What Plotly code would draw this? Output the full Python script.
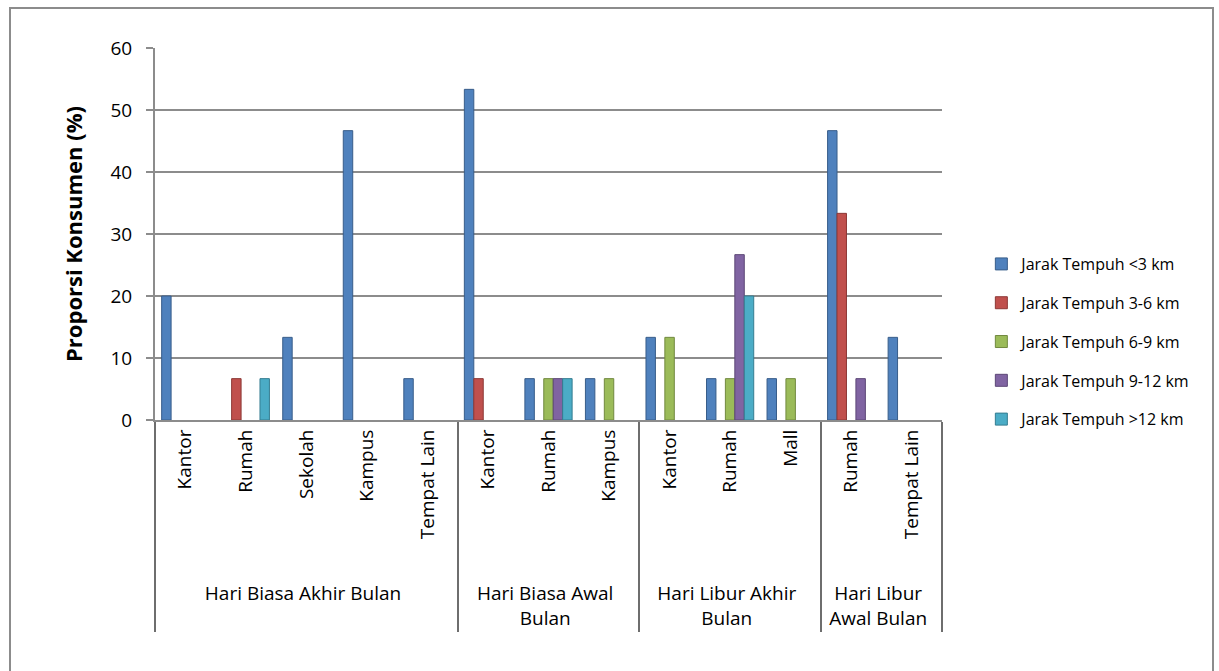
import plotly.graph_objects as go

groups = (["<br>Hari Biasa Akhir Bulan"] * 5
          + ["<br>Hari Biasa Awal<br>Bulan"] * 3
          + ["<br>Hari Libur Akhir<br>Bulan"] * 3
          + ["<br>Hari Libur<br>Awal Bulan"] * 2)
places = ["Kantor", "Rumah", "Sekolah", "Kampus", "Tempat Lain",
          "Kantor", "Rumah", "Kampus",
          "Kantor", "Rumah", "Mall",
          "Rumah", "Tempat Lain"]

series_names = ["Jarak Tempuh <3 km", "Jarak Tempuh 3-6 km", "Jarak Tempuh 6-9 km",
                "Jarak Tempuh 9-12 km", "Jarak Tempuh >12 km"]
jarak_lt3 = [20, None, 13.33, 46.67, 6.67, 53.33, 6.67, 6.67, 13.33, 6.67, 6.67, 46.67, 13.33]
jarak_3_6 = [None, 6.67, None, None, None, 6.67, None, None, None, None, None, 33.33, None]
jarak_6_9 = [None, None, None, None, None, None, 6.67, 6.67, 13.33, 6.67, 6.67, None, None]
jarak_9_12 = [None, None, None, None, None, None, 6.67, None, None, 26.67, None, 6.67, None]
jarak_gt12 = [None, 6.67, None, None, None, None, 6.67, None, None, 20, None, None, None]

colors = ["#4F81BD", "#C0504D", "#9BBB59", "#8064A2", "#4BACC6"]
edge = ["#385D8A", "#8C3836", "#71893F", "#5C4776", "#357D91"]

fig = go.Figure()
for i, (name, vals, c, e) in enumerate(zip(series_names,
                                           [jarak_lt3, jarak_3_6, jarak_6_9, jarak_9_12, jarak_gt12],
                                           colors, edge)):
    fig.add_trace(go.Bar(x=[groups, places], y=vals, name=name, legendgroup=f"g{i}",
                         marker=dict(color=c, line=dict(color=e, width=1))))

FONT = "Open Sans"
fig.update_layout(
    width=1219, height=671,
    margin=dict(l=155, r=277, t=48, b=251),
    paper_bgcolor="white", plot_bgcolor="white",
    barmode="group", bargap=0.22, bargroupgap=0,
    font=dict(family=FONT, color="#000000", size=19),
    legend=dict(x=1.05, y=0.465, xanchor="left", yanchor="top",
                font=dict(size=16, family=FONT), tracegroupgap=15,
                itemwidth=30, traceorder="grouped"),
    showlegend=True,
)
fig.update_yaxes(range=[0, 60], dtick=10, showgrid=True, gridcolor="#8C8C8C", gridwidth=2,
                 showline=True, linecolor="#8C8C8C", linewidth=2,
                 ticks="outside", ticklen=7, tickcolor="#8C8C8C", tickwidth=2,
                 ticklabelstandoff=10,
                 tickfont=dict(size=19, family=FONT), zeroline=False,
                 title=dict(text="<b>Proporsi Konsumen (%)</b>", font=dict(size=22, family=FONT), standoff=22))
fig.update_xaxes(type="multicategory", showline=True, linecolor="#8C8C8C", linewidth=2,
                 tickangle=-90, tickfont=dict(size=19, family=FONT),
                 showdividers=True, dividercolor="#6E6E6E", dividerwidth=2)

fig.add_shape(type="rect", xref="paper", yref="paper",
              x0=-145 / 787, x1=1058 / 787, y0=-700 / 372, y1=(420 - 8) / 372,
              line=dict(color="#8C8C8C", width=2), layer="below")

fig.write_html("out.html")
